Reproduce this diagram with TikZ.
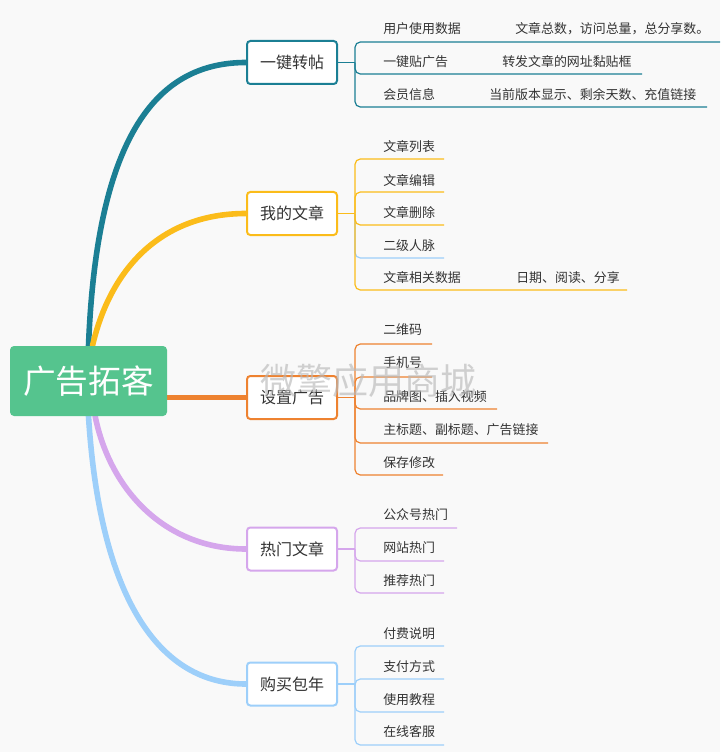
\documentclass[tikz,border=0pt]{standalone}
\usepackage{fontspec}
\setmainfont{Noto Sans CJK SC}
\usetikzlibrary{backgrounds}

\definecolor{rootgreen}{HTML}{55C48E}
\definecolor{teal1}{HTML}{1B7F94}
\definecolor{amber1}{HTML}{FBBC1A}
\definecolor{orange1}{HTML}{EE8230}
\definecolor{purple1}{HTML}{D5A6EC}
\definecolor{blue1}{HTML}{9DCFFA}
\definecolor{textgray}{HTML}{333333}
\definecolor{bggray}{HTML}{F9F9F9}

\begin{document}
\begin{tikzpicture}[x=0.75pt,y=-0.75pt,
  branch/.style={draw,line width=1.5pt,fill=white,rounded corners=2.5pt,minimum width=67.5pt,minimum height=32.25pt,text=textgray,font=\fontsize{12}{14}\selectfont},
  leaf/.style={anchor=west,inner sep=0pt,text=textgray,font=\fontsize{9.7}{12}\selectfont},
  limb/.style={line width=4.2pt,line cap=round},
  twig/.style={line width=0.9pt,rounded corners=4pt}]

\useasboundingbox (0,0) rectangle (720,752);

\node (root) at (88.5,381) [fill=rootgreen,rounded corners=3pt,minimum width=117.75pt,minimum height=52.5pt,text=white,font=\fontsize{24.5}{28}\selectfont] {广告拓客};

\node (b1) at (292,62.5) [branch,draw=teal1] {一键转帖};
\node (b2) at (292,213.5) [branch,draw=amber1] {我的文章};
\node (b3) at (292,397.5) [branch,draw=orange1] {设置广告};
\node (b4) at (292,549) [branch,draw=purple1] {热门文章};
\node (b5) at (292,684) [branch,draw=blue1] {购买包年};

% bracket points
\coordinate (k1) at (355,62.5);
\coordinate (k2) at (355,213.5);
\coordinate (k3) at (355,397.5);
\coordinate (k4) at (355,549);
\coordinate (k5) at (355,684);

% main limbs
\begin{pgfonlayer}{background}
\fill [bggray] (0,0) rectangle (720,752);
\draw [limb,teal1] (root.north) .. controls (97,130) and (160,62.5) .. (b1.west);
\draw [limb,amber1] ([xshift=3pt]root.north) .. controls (110,270) and (160,213.5) .. (b2.west);
\draw [limb,orange1] (root.east |- b3) -- (b3.west);
\draw [limb,purple1] ([xshift=5pt]root.south) .. controls (110,490) and (165,549) .. (b4.west);
\draw [limb,blue1] (root.south) .. controls (100,600) and (160,684) .. (b5.west);
\end{pgfonlayer}

% 一键转帖
\node (c11) at (383,29) [leaf] {用户使用数据};
\node (d11) at (515,29) [leaf] {文章总数，访问总量，总分享数。};
\node (c12) at (383,62) [leaf] {一键贴广告};
\node (d12) at (502,62) [leaf] {转发文章的网址黏贴框};
\node (c13) at (383,95) [leaf] {会员信息};
\node (d13) at (489,95) [leaf] {当前版本显示、剩余天数、充值链接};
\coordinate (u11) at (720,42);
\coordinate (u12) at (642,74);
\coordinate (u13) at (707,107);
\draw [twig,teal1] (b1.east) -- (k1);
\draw [twig,teal1] (k1) |- (u11);
\draw [twig,teal1] (k1) |- (u12);
\draw [twig,teal1] (k1) |- (u13);

% 我的文章
\node (c21) at (383,147) [leaf] {文章列表};
\node (c22) at (383,180) [leaf] {文章编辑};
\node (c23) at (383,213) [leaf] {文章删除};
\node (c24) at (383,246) [leaf] {二级人脉};
\node (c25) at (383,278) [leaf] {文章相关数据};
\node (d25) at (516,278) [leaf] {日期、阅读、分享};
\coordinate (u21) at (444,159);
\coordinate (u22) at (444,192);
\coordinate (u23) at (444,225);
\coordinate (u24) at (444,258);
\coordinate (u25) at (627,290);
\draw [twig,amber1] (b2.east) -- (k2);
\draw [twig,blue1] (k2) |- (u24);
\draw [twig,amber1] (k2) |- (u21);
\draw [twig,amber1] (k2) |- (u22);
\draw [twig,amber1] (k2) |- (u23);
\draw [twig,amber1] (k2) |- (u25);

% 设置广告
\node (c31) at (383,330) [leaf] {二维码};
\node (c32) at (383,363) [leaf] {手机号};
\node (c33) at (383,397) [leaf] {品牌图、插入视频};
\node (c34) at (383,430) [leaf] {主标题、副标题、广告链接};
\node (c35) at (383,463) [leaf] {保存修改};
\coordinate (u31) at (432,344);
\coordinate (u32) at (432,377);
\coordinate (u33) at (497,409);
\coordinate (u34) at (548,443);
\coordinate (u35) at (443,475);
\draw [twig,orange1] (b3.east) -- (k3);
\draw [twig,orange1] (k3) |- (u31);
\draw [twig,orange1] (k3) |- (u32);
\draw [twig,orange1] (k3) |- (u33);
\draw [twig,orange1] (k3) |- (u34);
\draw [twig,orange1] (k3) |- (u35);

% 热门文章
\node (c41) at (383,515) [leaf] {公众号热门};
\node (c42) at (383,548) [leaf] {网站热门};
\node (c43) at (383,581) [leaf] {推荐热门};
\coordinate (u41) at (457,528);
\coordinate (u42) at (444,561);
\coordinate (u43) at (444,593);
\draw [twig,purple1] (b4.east) -- (k4);
\draw [twig,purple1] (k4) |- (u41);
\draw [twig,purple1] (k4) |- (u42);
\draw [twig,purple1] (k4) |- (u43);

% 购买包年
\node (c51) at (383,634) [leaf] {付费说明};
\node (c52) at (383,667) [leaf] {支付方式};
\node (c53) at (383,700) [leaf] {使用教程};
\node (c54) at (383,732) [leaf] {在线客服};
\coordinate (u51) at (444,646);
\coordinate (u52) at (444,679);
\coordinate (u53) at (444,712);
\coordinate (u54) at (444,745);
\draw [twig,blue1] (b5.east) -- (k5);
\draw [twig,blue1] (k5) |- (u51);
\draw [twig,blue1] (k5) |- (u52);
\draw [twig,blue1] (k5) |- (u53);
\draw [twig,blue1] (k5) |- (u54);

\node (wm) at (368,381) [text=gray!55,opacity=0.65,font=\fontsize{27}{30}\selectfont] {微擎应用商城};

\end{tikzpicture}
\end{document}
